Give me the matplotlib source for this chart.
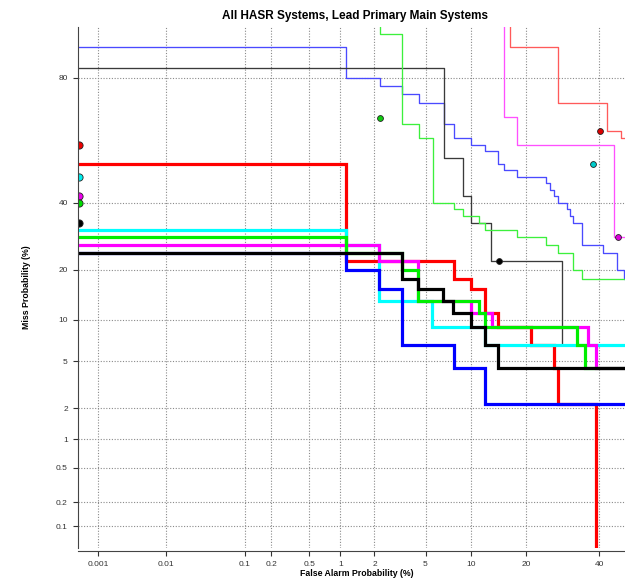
import matplotlib
matplotlib.use("Agg")
import matplotlib.pyplot as plt
import numpy as np
from statistics import NormalDist

plt.rcParams["font.family"] = ["Liberation Sans", "DejaVu Sans"]

# DET plot: both axes on the normal-deviate (probit) scale, values in percent
_nd = NormalDist()


def probit(pct):
    return np.array([_nd.inv_cdf(p / 100.0) for p in np.atleast_1d(pct)])


# ---- axis ranges / ticks (percent) ----
x_lim = (0.00047, 50)
y_lim = (0.052, 90)
x_ticks = [0.001, 0.01, 0.1, 0.2, 0.5, 1, 2, 5, 10, 20, 40]
x_tick_labels = ["0.001", "0.01", "0.1", "0.2", "0.5", "1", "2", "5", "10", "20", "40"]
y_ticks = [0.1, 0.2, 0.5, 1, 2, 5, 10, 20, 40, 80]
y_tick_labels = ["0.1", "0.2", "0.5", "1", "2", "5", "10", "20", "40", "80"]

# ---- thin curves (upper set) ----
blue_thin_fa = [1e-4, 1.12, 2.22, 3.35, 4.50, 6.75, 7.86, 10.0, 12.2, 14.4, 15.5, 18.0,
                24.7, 25.8, 27.0, 28.0, 30.3, 31.3, 32.2, 34.7, 41.2, 45.4, 47.9, 60]
blue_thin_miss = [86.7, 80.0, 77.8, 75.6, 73.3, 66.7, 62.2, 60.0, 57.8, 53.3, 51.1, 48.9,
                  46.7, 44.4, 42.2, 40.0, 37.8, 35.6, 33.3, 26.7, 24.4, 20.0, 17.8, 17.8]

black_thin_fa = [1e-4, 6.75, 8.89, 10.0, 13.2, 29.1, 60]
black_thin_miss = [82.2, 55.6, 42.2, 33.3, 22.2, 6.7, 6.7]

green_thin_fa = [1e-4, 2.22, 3.35, 4.50, 5.62, 7.86, 8.97, 11.2, 12.2, 18.0, 24.7, 28.0,
                 32.2, 34.7, 60]
green_thin_miss = [95.0, 88.9, 66.7, 62.2, 40.0, 37.8, 35.6, 33.3, 31.1, 28.9, 26.7, 24.4,
                   20.0, 17.8, 17.8]

magenta_thin_fa = [1e-4, 15.5, 18.0, 44.6, 60]
magenta_thin_miss = [95.0, 68.9, 60.0, 28.9, 28.9]

red_thin_fa = [1e-4, 16.6, 28.0, 42.5, 46.7, 60]
red_thin_miss = [95.0, 86.7, 73.3, 64.4, 62.2, 62.2]

# ---- thick curves (lower set) ----
red_fa = [1e-4, 1.12, 7.8, 10.0, 12.2, 14.4, 21.1, 26.9, 27.9, 39.0]
red_miss = [53.3, 22.2, 17.8, 15.6, 11.1, 8.9, 6.7, 4.4, 2.2, 0.001]

cyan_fa = [1e-4, 1.12, 2.19, 5.53, 12.2, 60]
cyan_miss = [31.1, 26.7, 13.3, 8.9, 6.7, 6.7]

green_fa = [1e-4, 1.12, 3.32, 4.43, 11.2, 12.2, 33.2, 35.6, 60]
green_miss = [28.9, 24.4, 20.0, 13.3, 11.1, 8.9, 6.7, 4.4, 4.4]

magenta_fa = [1e-4, 2.19, 4.43, 10.0, 13.3, 36.6, 39.0, 60]
magenta_miss = [26.7, 22.2, 13.3, 11.1, 8.9, 6.7, 4.4, 4.4]

blue_fa = [1e-4, 1.12, 2.19, 3.32, 7.8, 12.2, 60]
blue_miss = [24.4, 20.0, 15.6, 6.7, 4.4, 2.2, 2.2]

black_fa = [1e-4, 3.32, 4.43, 6.64, 7.75, 10.0, 12.2, 14.4, 60]
black_miss = [24.4, 17.8, 15.6, 13.3, 11.1, 8.9, 6.7, 4.4, 4.4]

# ---- operating points ----
thin_pt_fa = [2.22, 14.5, 40.2, 38.0, 45.7]
thin_pt_miss = [68.7, 22.2, 64.4, 53.2, 28.9]
thin_pt_colors = ["#11cc11", "#000000", "#dd0000", "#00cccc", "#dd00dd"]

left_pt_fa = [0.0005, 0.0005, 0.0005, 0.0005, 0.0005]
left_pt_miss = [59.8, 48.8, 42.2, 40.0, 33.2]
left_pt_colors = ["#ee0000", "#00eeee", "#ee00ee", "#00dd00", "#000000"]


fig = plt.figure(figsize=(6.25, 5.78), dpi=100)
ax = fig.add_axes([77.5 / 625, 1 - 548 / 578, 553.5 / 625, (548 - 27.3) / 578])

# thin lines
thin = [
    (blue_thin_fa, blue_thin_miss, "#4a4aff"),
    (black_thin_fa, black_thin_miss, "#3a3a3a"),
    (green_thin_fa, green_thin_miss, "#3cf03c"),
    (magenta_thin_fa, magenta_thin_miss, "#ff50ff"),
    (red_thin_fa, red_thin_miss, "#ff5a5a"),
]
for fa, miss, col in thin:
    ax.plot(probit(fa), probit(miss), drawstyle="steps-post", color=col, lw=0.95)

# thick lines
thick = [
    (red_fa, red_miss, "#ff0000"),
    (cyan_fa, cyan_miss, "#00ffff"),
    (magenta_fa, magenta_miss, "#ff00ff"),
    (green_fa, green_miss, "#00ee00"),
    (blue_fa, blue_miss, "#0000ff"),
    (black_fa, black_miss, "#000000"),
]
for fa, miss, col in thick:
    ax.plot(probit(fa), probit(miss), drawstyle="steps-post", color=col, lw=2.3,
            solid_joinstyle="miter")

for fa, miss, col in zip(thin_pt_fa, thin_pt_miss, thin_pt_colors):
    ax.plot(probit(fa), probit(miss), "o", ms=4.2, mfc=col, mec="#222222", mew=0.6)
for fa, miss, col in zip(left_pt_fa, left_pt_miss, left_pt_colors):
    ax.plot(probit(fa), probit(miss), "o", ms=5.2, mfc=col, mec="#222222", mew=0.6)

ax.set_xlim(probit(x_lim[0])[0], probit(x_lim[1])[0])
ax.set_ylim(probit(y_lim[0])[0], probit(y_lim[1])[0])
ax.set_xticks(probit(x_ticks))
ax.set_xticklabels(x_tick_labels)
ax.set_yticks(probit(y_ticks))
ax.set_yticklabels(y_tick_labels)
ax.tick_params(axis="both", labelsize=6, colors="#333333", length=3.5, width=0.8)
ax.grid(True, linestyle=(0, (1, 1.5)), color="#8a8a8a", lw=0.8)
ax.set_axisbelow(True)

for s in ["top", "right"]:
    ax.spines[s].set_visible(False)
ax.spines["left"].set_color("#444444")
ax.spines["bottom"].set_color("#444444")
ax.spines["bottom"].set_position(("outward", 2.2))

fig.text(355 / 625, 1 - 16 / 578, "All HASR Systems, Lead Primary Main Systems",
         ha="center", va="center", fontsize=8.5, fontweight="bold")
fig.text(357 / 625, 1 - 573 / 578, "False Alarm Probability (%)",
         ha="center", va="center", fontsize=6.3, fontweight="bold")
fig.text(27 / 625, 1 - 287 / 578, "Miss Probability (%)", rotation=90,
         ha="center", va="center", fontsize=6.3, fontweight="bold")

fig.savefig("out.png", dpi=100)
